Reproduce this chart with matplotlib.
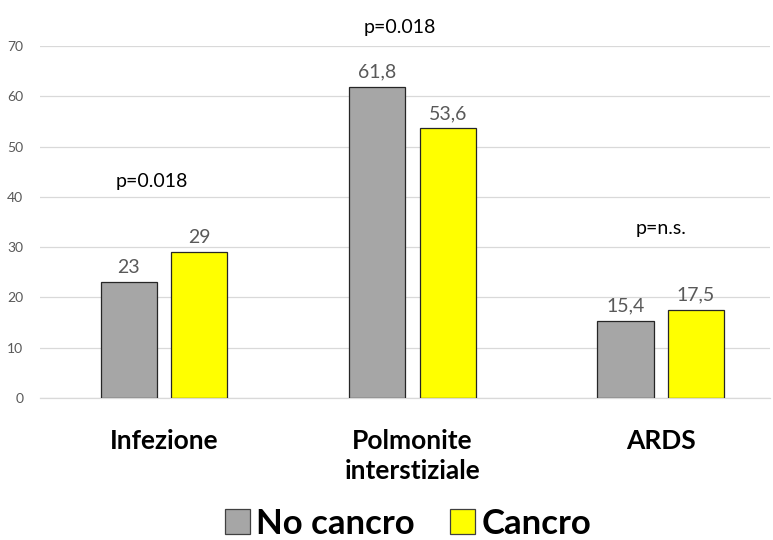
import matplotlib
matplotlib.use("Agg")
import matplotlib.pyplot as plt
from matplotlib.patches import Patch
import numpy as np

plt.rcParams['font.family'] = ['Lato', 'DejaVu Sans']

categories = ["Infezione", "Polmonite\ninterstiziale", "ARDS"]
no_cancro = [23, 61.8, 15.4]
cancro = [29, 53.6, 17.5]
no_cancro_labels = ["23", "61,8", "15,4"]
cancro_labels = ["29", "53,6", "17,5"]
p_values = ["p=0.018", "p=0.018", "p=n.s."]
p_heights = [43.1, 73.6, 33.8]
p_offsets = [-0.05, -0.05, 0.0]

fig = plt.figure(figsize=(7.73, 5.40), dpi=100)
ax = fig.add_axes([40 / 773, 142 / 540, 730 / 773, 352 / 540])

x = np.arange(len(categories))
w = 0.226
off = 0.142
gray = "#A6A6A6"
yellow = "#FFFF00"

b1 = ax.bar(x - off, no_cancro, w, color=gray, edgecolor="#262626", linewidth=0.9, zorder=3)
b2 = ax.bar(x + off, cancro, w, color=yellow, edgecolor="#262626", linewidth=0.9, zorder=3)

for rect, lab in zip(b1, no_cancro_labels):
    ax.text(rect.get_x() + rect.get_width() / 2, rect.get_height() + 1.3, lab,
            ha="center", va="bottom", fontsize=14, color="#595959")
for rect, lab in zip(b2, cancro_labels):
    ax.text(rect.get_x() + rect.get_width() / 2, rect.get_height() + 1.3, lab,
            ha="center", va="bottom", fontsize=14, color="#595959")

for xi, p, h, o in zip(x, p_values, p_heights, p_offsets):
    ax.text(xi + o, h, p, ha="center", va="center", fontsize=14, color="black", clip_on=False)

ax.set_ylim(0, 70)
ax.set_xlim(-0.5, 2.44)
ax.set_yticks(np.arange(0, 71, 10))
ax.tick_params(axis="y", length=0, labelsize=10, labelcolor="#595959", pad=12)
ax.tick_params(axis="x", length=0, pad=22)
ax.set_xticks(x)
ax.set_xticklabels(categories, fontsize=19, fontweight="bold", color="black", linespacing=1.3,
                   va="top")
ax.yaxis.grid(True, color="#D9D9D9", linewidth=0.9, zorder=0)
ax.set_axisbelow(True)
for s in ["top", "right", "left"]:
    ax.spines[s].set_visible(False)
ax.spines["bottom"].set_color("#D9D9D9")
ax.spines["bottom"].set_linewidth(0.9)

handles = [Patch(facecolor=gray, edgecolor="#404040", linewidth=0.9, label="No cancro"),
           Patch(facecolor=yellow, edgecolor="#404040", linewidth=0.9, label="Cancro")]
fig.legend(handles=handles, loc="center", bbox_to_anchor=(408 / 773, 1 - 524 / 540),
           ncol=2, frameon=False, prop={"size": 25, "weight": "bold"},
           handlelength=0.72, handleheight=0.72, handletextpad=0.2, columnspacing=1.0)

fig.savefig("out.png", dpi=100)
